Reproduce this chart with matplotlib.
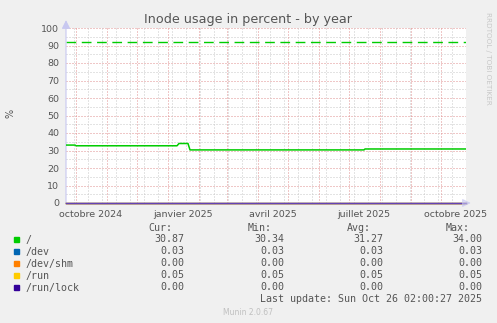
import matplotlib
matplotlib.use("Agg")
import matplotlib.pyplot as plt
from matplotlib.patches import Rectangle
import pandas as pd

root_dates = ["2024-09-21", "2024-09-30", "2024-10-01", "2025-01-10", "2025-01-12",
              "2025-01-21", "2025-01-23", "2025-07-16", "2025-07-17", "2025-10-26"]
root_vals = [33.1, 33.1, 32.7, 32.7, 34.0, 34.0, 30.34, 30.34, 30.87, 30.87]

small_names = ["/dev", "/dev/shm", "/run", "/run/lock"]
small_vals = [0.03, 0.00, 0.05, 0.00]

names = ["/", "/dev", "/dev/shm", "/run", "/run/lock"]
colors = ["#00CC00", "#0066B3", "#FF8000", "#FFCC00", "#330099"]
cur = ["30.87", "0.03", "0.00", "0.05", "0.00"]
mins = ["30.34", "0.03", "0.00", "0.05", "0.00"]
avgs = ["31.27", "0.03", "0.00", "0.05", "0.00"]
maxs = ["34.00", "0.03", "0.00", "0.05", "0.00"]

warning = 92
start, end = "2024-09-21", "2025-10-26"
tick_dates = ["2024-10-16", "2025-01-16", "2025-04-16", "2025-07-16", "2025-10-16"]
tick_labels = ["octobre 2024", "janvier 2025", "avril 2025", "juillet 2025", "octobre 2025"]

W, H = 497, 323
fig = plt.figure(figsize=(W / 100, H / 100), dpi=100, facecolor="#F0F0F0")
ax = fig.add_axes([66 / W, 1 - 203 / H, 400 / W, 175 / H], facecolor="white")

def fx(x):
    return x / W

def fy(y):
    return 1 - y / H

t0, t1 = pd.Timestamp(start), pd.Timestamp(end)
ax.set_xlim(t0, t1)
ax.set_ylim(0, 100)

# dotted grid, rrdtool style
grid = dict(lw=0.72, dashes=(1, 2), zorder=1)
for v in range(5, 100, 10):
    ax.axhline(v, color="#C8C8C8", **grid)
for v in range(10, 101, 10):
    ax.axhline(v, color="#E09090", **grid)
for d in pd.date_range("2024-09-29", end, freq="14D"):
    ax.axvline(d, color="#C8C8C8", **grid)
for d in pd.date_range("2024-10-01", end, freq="MS"):
    ax.axvline(d, color="#E09090", **grid)

# series
ax.plot(pd.to_datetime([start, end]), [warning, warning], color="#00CC00", lw=1.0,
        dashes=(7, 4), zorder=3)
ax.plot(pd.to_datetime(root_dates), root_vals, color="#00CC00", lw=1.1, zorder=4)
for n, v, c in zip(small_names, small_vals, colors[1:]):
    ax.plot(pd.to_datetime([start, end]), [v, v], color=c, lw=1.0, zorder=4, clip_on=False)

for s in ax.spines.values():
    s.set_visible(False)

# axes with arrows
ax.annotate("", xy=(0, 1.045), xytext=(0, 0), xycoords="axes fraction",
            arrowprops=dict(arrowstyle="-|>,head_length=0.5,head_width=0.25",
                            color="#C8C8F0", lw=0.8, shrinkA=0, shrinkB=0))
ax.annotate("", xy=(1.012, 0), xytext=(0, 0), xycoords="axes fraction",
            arrowprops=dict(arrowstyle="-|>,head_length=0.5,head_width=0.25",
                            color="#C8C8F0", lw=0.8, shrinkA=0, shrinkB=0, alpha=0.6),
            zorder=5)

ax.set_yticks(range(0, 101, 10))
ax.set_xticks(pd.to_datetime(tick_dates))
ax.set_xticklabels(tick_labels)
ax.tick_params(length=0, labelsize=6.8, labelcolor="#555555", pad=5)
ax.tick_params(axis="y", pad=5)

fig.text(0.5, fy(19), "Inode usage in percent - by year", ha="center", va="center",
         fontsize=9.2, color="#555555")
fig.text(fx(11), fy(113), "%", rotation=90, ha="center", va="center",
         fontsize=7, color="#555555")
fig.text(fx(488), fy(58), "RRDTOOL / TOBI OETIKER", rotation=270, ha="center",
         va="center", fontsize=5.2, color="#C8C8C8")

# legend
mono = dict(family="DejaVu Sans Mono", fontsize=7.2, color="#555555", va="center")
for label, xr in zip(["Cur:", "Min:", "Avg:", "Max:"], [172, 272, 371, 470]):
    fig.text(fx(xr), fy(228), label, ha="right", **mono)
rows = [239.5, 251.5, 263.5, 275.5, 287.5]
for i, y in enumerate(rows):
    fig.add_artist(Rectangle((fx(14), fy(y + 2.7)), 5.3 / W, 5.3 / H,
                             transform=fig.transFigure, color=colors[i]))
    fig.text(fx(26), fy(y), names[i], ha="left", **mono)
    for col, xr in zip([cur, mins, avgs, maxs], [184.5, 284.5, 383.5, 482.5]):
        fig.text(fx(xr), fy(y), col[i], ha="right", **mono)
fig.text(fx(482.5), fy(299.5), "Last update: Sun Oct 26 02:00:27 2025", ha="right", **mono)
fig.text(fx(248), fy(312.5), "Munin 2.0.67", ha="center", va="center",
         fontsize=5.5, color="#C0C0C0")

fig.savefig("out.png", dpi=100, facecolor=fig.get_facecolor())
